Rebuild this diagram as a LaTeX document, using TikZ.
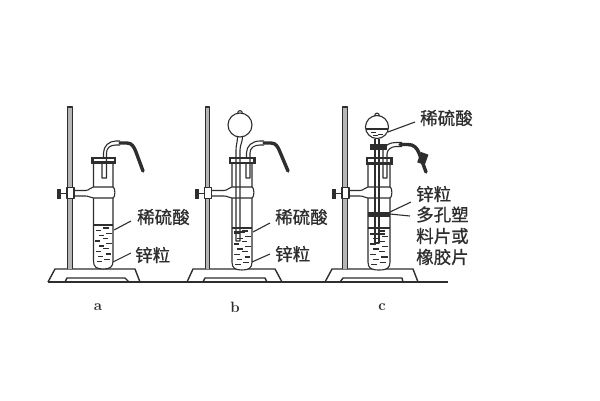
\documentclass[tikz,border=0pt]{standalone}
\usepackage{fontspec}
\newfontfamily\cjk{Noto Sans CJK SC}[FakeBold=0.8]
\definecolor{ink}{gray}{0.18}
\tikzset{
  glass/.style={draw=ink,line width=1.1pt,line join=round},
  heavy/.style={draw=ink,line width=1.4pt},
  rubber/.style={draw=ink,line width=3.4pt,line cap=round},
  lead/.style={draw=ink,line width=1.1pt},
  lbl/.style={font=\cjk\fontsize{17.5}{18}\selectfont,text=ink,inner sep=0pt},
  letter/.style={font=\bfseries\fontsize{15}{16}\selectfont,text=ink,inner sep=0pt},
  drop/.style={draw=ink,line width=1.3pt},
  stopper/.style={draw=ink,line width=2.2pt,fill=white},
}
\newcommand{\rodstand}[1]{%
  \draw[glass,fill=ink!35] (#1-2.2,269) -- (#1-2.2,107) -- (#1+2.2,107) -- (#1+2.2,269);
}
\newcommand{\basestand}[8]{%
  \draw[heavy,line join=round] (#3,282) -- (#1,269) -- (#2,269) -- (#4,282);
  \draw[heavy,line join=round] (#5,282) -- (#6,278) -- (#7,278) -- (#8,282);
}
% left, right, top, bottom
\newcommand{\testtube}[4]{%
  \draw[glass,fill=white] (#1,#3) -- (#1,#4-8) .. controls (#1,#4-2) and ({#1+3},#4) .. ({(#1+#2)/2},#4) .. controls ({#2-3},#4) and (#2,#4-2) .. (#2,#4-8) -- (#2,#3);
}
% rod x, left tube x, right tube x
\newcommand{\clampset}[3]{%
  \fill[ink] (#1-13,188.5) rectangle (#1-9,198.5);
  \draw[heavy] (#1-9,193.5) -- (#1-3,193.5);
  \draw[glass,fill=white] (#1+4,190.5) -- (#2-8,190.5) .. controls (#2-4,190.5) and (#2-3,187) .. (#2,187) -- (#3,187) .. controls (#3+2.5,187) and (#3+2.5,198) .. (#3,198) -- (#2,198) .. controls (#2-3,198) and (#2-4,196) .. (#2-8,196) -- (#1+4,196);
  \draw[glass,fill=white] (#1-3,187.5) rectangle (#1+4,198.5);
}
% left x, top y, tube width
\newcommand{\liquidset}[3]{%
  \foreach \r/\dx in {0/1,1/4,2/0.5,3/4,4/1,5/3.5,6/2}{
    \draw[drop] ({#1+\dx+1},{#2+4.5+\r*5.2}) -- ++({#3*0.28},0);
    \draw[drop] ({#1+\dx+#3*0.45},{#2+2+\r*5.2}) -- ++({#3*0.28},0);
  }
}
% bulb x, y, r
\newcommand{\bulbset}[3]{%
  \draw[glass,fill=white] (#1-2.5,#2-#3+0.8) .. controls (#1-2.5,#2-#3-3.5) and (#1+2.5,#2-#3-3.5) .. (#1+2.5,#2-#3+0.8);
  \draw[glass,fill=white] (#1,#2) circle[radius=#3];
}
\begin{document}
\begin{tikzpicture}[x=1pt,y=-1pt]
\useasboundingbox (0,0) rectangle (600,400);
\fill[white] (0,0) rectangle (600,400);

\coordinate (g0) at (48,282); \coordinate (g1) at (448,282);
\draw[heavy] (g0) -- (g1);

%%%%%%%% a
\basestand{55}{135}{48}{140}{65}{67}{125}{129}
\rodstand{70}
\testtube{93.5}{113}{160}{269}
\draw[glass] (93.5,225) -- (113,225);
\liquidset{93.5}{226}{19.5}
\clampset{70}{93.5}{113}
\draw[stopper] (92.5,158) rectangle (115,162.5);
\draw[glass] (102,163) -- (102,178) -- (106.5,178) -- (106.5,153) .. controls (106.5,148) and (110,145) .. (116,145) -- (120,145);
\draw[glass] (103.5,157) -- (103.5,153) .. controls (103.5,146) and (109,141) .. (116,141) -- (120,141);
\draw[rubber] (120,143) -- (127,143) .. controls (132,143) and (134,147) .. (136,152) -- (143,171);
\coordinate (a1) at (114,230); \coordinate (a2) at (131,221);
\coordinate (a3) at (113,262); \coordinate (a4) at (131,253);
\draw[lead] (a1) -- (a2); \draw[lead] (a3) -- (a4);
\node[lbl,anchor=west] (lblA1) at (137,217) {稀硫酸};
\node[lbl,anchor=west] (lblA2) at (135,255) {锌粒};
\node[letter] (la) at (98,307) {a};

%%%%%%%% b
\basestand{193}{275}{187}{282}{203}{205}{265}{267}
\rodstand{207.5}
\testtube{232}{252}{160}{270}
\draw[glass] (232,228) -- (252,228);
\liquidset{232}{229}{20}
\clampset{207.5}{232}{252}
\draw[stopper] (230,158) rectangle (254.5,163);
\bulbset{240}{125}{12}
\draw[glass] (237.5,137) .. controls (237.5,142) and (236,145) .. (236,150) -- (236,241) -- (240,241) -- (240,150) .. controls (240,145) and (242.5,142) .. (242.5,137);
\draw[glass] (234,232) -- (245,232);
\draw[glass] (246,163) -- (246,178) -- (250,178) -- (250,153) .. controls (250,148) and (254,145) .. (260,145) -- (264,145);
\draw[glass] (246.5,157) -- (246.5,153) .. controls (246.5,146) and (252,141) .. (260,141) -- (264,141);
\draw[rubber] (264,143) -- (271,143) .. controls (276,143) and (278,147) .. (280,152) -- (288,171);
\coordinate (b1) at (253,232); \coordinate (b2) at (270,223);
\coordinate (b3) at (252,262); \coordinate (b4) at (270,254);
\draw[lead] (b1) -- (b2); \draw[lead] (b3) -- (b4);
\node[lbl,anchor=west] (lblB1) at (275,217) {稀硫酸};
\node[lbl,anchor=west] (lblB2) at (275,254) {锌粒};
\node[letter] (lb) at (235,307) {b};

%%%%%%%% c
\basestand{332}{413}{325}{418}{340}{343}{402}{403}
\rodstand{345}
\testtube{368}{390}{161}{270}
\draw[glass] (368,228) -- (390,228);
\liquidset{368}{229}{22}
\clampset{345}{368}{390}
\draw[stopper] (367,158) rectangle (391.5,163.5);
% funnel c
\bulbset{377}{127}{11.5}
\draw[glass] (366,129) -- (388,129);
\foreach \dx/\dy in {371/132,378/134,373/135.5}{\draw[drop,line width=0.9pt] (\dx,\dy) -- ++(5,0);}
\draw[glass] (375,138.5) -- (375,243) -- (379,243) -- (379,138.5);
\draw[glass] (370,234) -- (385,234);
\fill[ink] (370,143.5) rectangle (387,149.5);
\draw[glass] (383,150) -- (383,178) -- (387,178) -- (387,154) .. controls (387,150) and (391,146.5) .. (396,146.5) -- (402,146.5);
\draw[glass] (384,148) .. controls (386,145) and (390,142.5) .. (396,142.5) -- (402,142.5);
\draw[rubber] (400,144.5) -- (408,144.5) .. controls (414,144.5) and (417,148) .. (419,153) -- (426,172);
\fill[ink,rotate around={-20:(423,158)}] (419,153) rectangle (427,164);
% perforated plate
\fill[ink] (368,212) rectangle (390,217);
\coordinate (c1) at (388,132); \coordinate (c2) at (415,122);
\coordinate (c3) at (390,212); \coordinate (c4) at (411,202);
\coordinate (c5) at (390,214); \coordinate (c6) at (410,216);
\draw[lead] (c1) -- (c2); \draw[lead] (c3) -- (c4); \draw[lead] (c5) -- (c6);
\node[lbl,anchor=west] (lblC1) at (420,118) {稀硫酸};
\node[lbl,anchor=west] (lblC2) at (416,194) {锌粒};
\node[lbl,anchor=west] (lblC3) at (416,214.5) {多孔塑};
\node[lbl,anchor=west] (lblC4) at (416,236) {料片或};
\node[lbl,anchor=west] (lblC5) at (416,257) {橡胶片};
\node[letter] (lc) at (382,307) {c};
\end{tikzpicture}
\end{document}
